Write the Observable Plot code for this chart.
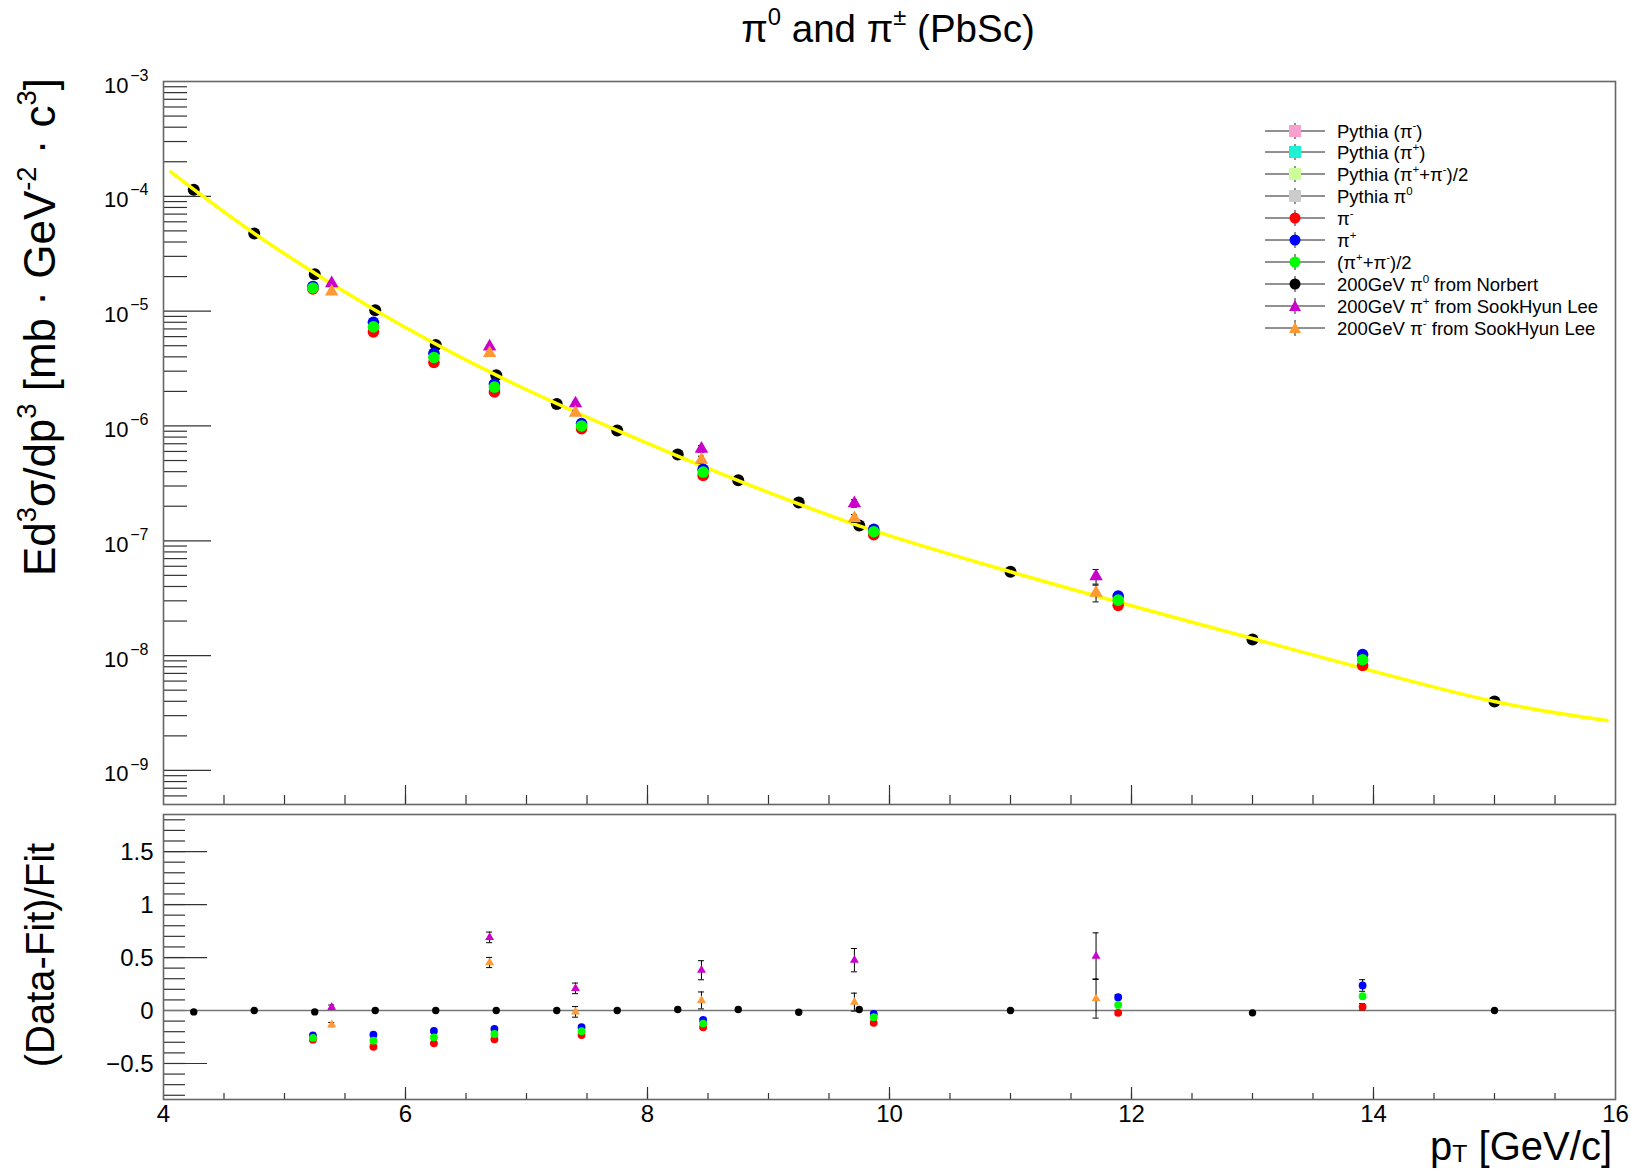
<!DOCTYPE html>
<html>
<head>
<meta charset="utf-8">
<script src="https://cdn.jsdelivr.net/npm/d3@7"></script>
<script src="https://cdn.jsdelivr.net/npm/@observablehq/plot@0.6"></script>
<style>
  body { margin: 0; background: #fff; }
  #wrap { position: relative; width: 1631px; height: 1169px; overflow: hidden;
          font-family: "Liberation Sans", Arial, Helvetica, sans-serif; color: #000; background: #fff; }
  #wrap svg { position: absolute; left: 0; }
  .abs { position: absolute; white-space: nowrap; line-height: 1; }
  sup { font-size: 0.62em; position: relative; top: -0.7em; vertical-align: baseline; line-height: 0; }
  sub { font-size: 0.62em; position: relative; top: 0.1em; vertical-align: baseline; line-height: 0; }
  .lrow { position: absolute; left: 0; height: 22px; width: 360px; }
  .lrow svg { position: absolute; left: 0; top: 0; }
  .lrow span { position: absolute; left: 72px; top: 1px; font-size: 18.5px; line-height: 22px; white-space: nowrap; }
</style>
</head>
<body>
<div id="wrap"></div>
<script>
// ---------------- data ----------------
// pi0 200 GeV from Norbert (black)
const pi0Pt  = [4.25, 4.75, 5.25, 5.75, 6.25, 6.75, 7.25, 7.75, 8.25, 8.75, 9.25, 9.75, 11, 13, 15];
const pi0Val = [1.14e-4, 4.75e-5, 2.10e-5, 1.02e-5, 5.08e-6, 2.77e-6, 1.55e-6, 9.14e-7, 5.64e-7, 3.37e-7, 2.16e-7, 1.36e-7, 5.37e-8, 1.38e-8, 3.98e-9];
const pi0Res = [-0.013, 0, -0.013, 0, 0, 0, 0, 0, 0.01, 0.01, -0.016, 0.01, 0, -0.022, 0];

// charged pions (PbSc)
const pionPt     = [5.235, 5.735, 6.235, 6.735, 7.455, 8.46, 9.87, 11.89, 13.91];
const piMinusVal = [1.56e-5, 6.6e-6, 3.57e-6, 1.98e-6, 9.46e-7, 3.71e-7, 1.13e-7, 2.74e-8, 8.2e-9];
const piPlusVal  = [1.64e-5, 8.0e-6, 4.3e-6, 2.32e-6, 1.05e-6, 4.19e-7, 1.26e-7, 3.3e-8, 1.02e-8];
const piAvgVal   = [1.59e-5, 7.3e-6, 3.95e-6, 2.18e-6, 1.0e-6, 3.97e-7, 1.2e-7, 3.04e-8, 9.2e-9];
const piMinusRes = [-0.275, -0.342, -0.310, -0.272, -0.231, -0.158, -0.116, -0.022, 0.035];
const piPlusRes  = [-0.234, -0.228, -0.193, -0.174, -0.158, -0.089, -0.032, 0.126, 0.236];
const piAvgRes   = [-0.259, -0.285, -0.253, -0.222, -0.196, -0.123, -0.063, 0.053, 0.135];
const piMinusErr = [0.008, 0.008, 0.008, 0.009, 0.01, 0.012, 0.015, 0.02, 0.03];
const piPlusErr  = [0.008, 0.008, 0.008, 0.009, 0.01, 0.012, 0.015, 0.025, 0.055];
const piAvgErr   = [0.006, 0.006, 0.006, 0.007, 0.008, 0.009, 0.011, 0.016, 0.035];

// SookHyun Lee 200 GeV (triangles)
const sookPt       = [5.39, 6.695, 7.405, 8.446, 9.71, 11.707];
const sookPlusVal  = [1.75e-5, 4.91e-6, 1.57e-6, 6.33e-7, 2.12e-7, 4.91e-8];
const sookMinusVal = [1.48e-5, 4.3e-6, 1.30e-6, 5.08e-7, 1.57e-7, 3.52e-8];
const sookPlusRes  = [0.032, 0.69, 0.209, 0.38, 0.475, 0.513];
const sookMinusRes = [-0.133, 0.453, -0.013, 0.095, 0.079, 0.113];
const sookPlusErr  = [0.02, 0.05, 0.05, 0.09, 0.11, 0.22];
const sookMinusErr = [0.02, 0.048, 0.05, 0.08, 0.085, 0.185];

// fit curve (yellow)
const fitPt  = [4.06, 4.75, 5.75, 6.75, 7.75, 8.75, 9.75, 11, 13, 15, 15.93];
const fitVal = [1.63e-4, 4.75e-5, 1.02e-5, 2.77e-6, 9.14e-7, 3.34e-7, 1.35e-7, 5.37e-8, 1.41e-8, 3.98e-9, 2.72e-9];

// axes
const xDomain = [4, 16];
const topYDomain = [5.05e-10, 1e-3];
const botYDomain = [-0.84, 1.85];
const xLabelTicks = [4, 6, 8, 10, 12, 14, 16];
const decadeTicks = [1e-9, 1e-8, 1e-7, 1e-6, 1e-5, 1e-4, 1e-3];
const resMajorTicks = [-0.5, 0, 0.5, 1, 1.5];
const resTickLabels = ["\u22120.5", "0", "0.5", "1", "1.5"];

// legend
const legendLabels = [
  "Pythia (\u03c0<sup>-</sup>)",
  "Pythia (\u03c0<sup>+</sup>)",
  "Pythia (\u03c0<sup>+</sup>+\u03c0<sup>-</sup>)/2",
  "Pythia \u03c0<sup>0</sup>",
  "\u03c0<sup>-</sup>",
  "\u03c0<sup>+</sup>",
  "(\u03c0<sup>+</sup>+\u03c0<sup>-</sup>)/2",
  "200GeV \u03c0<sup>0</sup> from Norbert",
  "200GeV \u03c0<sup>+</sup> from SookHyun Lee",
  "200GeV \u03c0<sup>-</sup> from SookHyun Lee"
];
const legendColors = ["#f7a1cc", "#1ef2d2", "#ccff99", "#cccccc", "#ff0000", "#0000ff", "#00ff00", "#000000", "#cc00cc", "#ff9933"];
const legendShapes = ["square", "square", "square", "square", "circle", "circle", "circle", "circle", "triangle", "triangle"];

// ---------------- build ----------------
const FONT = '"Liberation Sans", Arial, Helvetica, sans-serif';
const W = 1631, ML = 163, MR = 16;
const PW = W - ML - MR;
const TOP_H = 808, TOP_MT = 81, TOP_MB = 4;
const TOP_PH = TOP_H - TOP_MT - TOP_MB;
const BOT_H = 361, BOT_MT = 6, BOT_MB = 70;
const BOT_PH = BOT_H - BOT_MT - BOT_MB;

const COL = {minus: "#ff0000", plus: "#0000ff", avg: "#00ff00", pi0: "#000000", sp: "#cc00cc", sm: "#ff9933"};

function table(xs, vals, res, errs) {
  return xs.map((x, i) => {
    const e = errs ? errs[i] : 0;
    const rel = e / (1 + res[i]);
    return {x, y: vals[i], r: res[i], e, lo: vals[i] * (1 - rel), hi: vals[i] * (1 + rel), rlo: res[i] - e, rhi: res[i] + e};
  });
}
const pi0 = table(pi0Pt, pi0Val, pi0Res, null);
const piM = table(pionPt, piMinusVal, piMinusRes, piMinusErr);
const piP = table(pionPt, piPlusVal, piPlusRes, piPlusErr);
const piA = table(pionPt, piAvgVal, piAvgRes, piAvgErr);
const spP = table(sookPt, sookPlusVal, sookPlusRes, sookPlusErr);
const spM = table(sookPt, sookMinusVal, sookMinusRes, sookMinusErr);
const fit = fitPt.map((x, i) => ({x, y: fitVal[i]}));

const logMinor = [];
for (let n = -10; n <= -4; n++) for (let k = 2; k <= 9; k++) {
  const v = k * Math.pow(10, n);
  if (v >= topYDomain[0] && v <= topYDomain[1]) logMinor.push(v);
}
const xMinor = d3.range(4.5, 16, 0.5);
const xMajor = [6, 8, 10, 12, 14];
const resMinor = d3.range(-8, 19).map(k => k / 10).filter(v => v > botYDomain[0] && v < botYDomain[1]);

function errMarks(data, lo, hi) {
  return [
    Plot.ruleX(data, {x: "x", y1: lo, y2: hi, stroke: "#000", strokeWidth: 1}),
    Plot.ruleY(data, {y: lo, x1: "x", x2: "x", insetLeft: -3, insetRight: -3, stroke: "#000", strokeWidth: 1}),
    Plot.ruleY(data, {y: hi, x1: "x", x2: "x", insetLeft: -3, insetRight: -3, stroke: "#000", strokeWidth: 1})
  ];
}

const tickStroke = "#333";
const frameStroke = "#666";

const topPlot = Plot.plot({
  width: W, height: TOP_H,
  marginLeft: ML, marginRight: MR, marginTop: TOP_MT, marginBottom: TOP_MB,
  x: {domain: xDomain, axis: null},
  y: {type: "log", domain: topYDomain, axis: null},
  style: {fontFamily: FONT, background: "transparent", overflow: "visible", color: "#000"},
  marks: [
    Plot.tickY(decadeTicks, {y: d => d, insetRight: PW - 48, stroke: tickStroke, strokeWidth: 1.2}),
    Plot.tickY(logMinor, {y: d => d, insetRight: PW - 24, stroke: tickStroke, strokeWidth: 1.2}),
    Plot.tickX(xMajor, {x: d => d, insetTop: TOP_PH - 19, stroke: tickStroke, strokeWidth: 1.2}),
    Plot.tickX(xMinor, {x: d => d, insetTop: TOP_PH - 9, stroke: tickStroke, strokeWidth: 1.2}),
    Plot.text(decadeTicks, {y: d => d, text: () => "10", frameAnchor: "left", textAnchor: "end", dx: -35, dy: 4, fontSize: 22, fill: "#000"}),
    Plot.text(decadeTicks, {y: d => d, text: d => "\u2212" + Math.round(-Math.log10(d)), frameAnchor: "left", textAnchor: "end", dx: -15, dy: -6, fontSize: 16, fill: "#000"}),
    Plot.dot(pi0, {x: "x", y: "y", r: 6, fill: COL.pi0}),
    Plot.line(fit, {x: "x", y: "y", stroke: "#ffff00", strokeWidth: 3.5, curve: "catmull-rom"}),
    ...errMarks(spP, "lo", "hi"),
    ...errMarks(spM, "lo", "hi"),
    ...errMarks(piP, "lo", "hi"),
    Plot.dot(piM, {x: "x", y: "y", r: 5.8, fill: COL.minus}),
    Plot.dot(piP, {x: "x", y: "y", r: 5.8, fill: COL.plus}),
    Plot.dot(piA, {x: "x", y: "y", r: 5.8, fill: COL.avg}),
    Plot.dot(spP, {x: "x", y: "y", r: 5, symbol: "triangle", fill: COL.sp}),
    Plot.dot(spM, {x: "x", y: "y", r: 5, symbol: "triangle", fill: COL.sm}),
    Plot.frame({stroke: frameStroke, strokeWidth: 1.6})
  ]
});

const botPlot = Plot.plot({
  width: W, height: BOT_H,
  marginLeft: ML, marginRight: MR, marginTop: BOT_MT, marginBottom: BOT_MB,
  x: {domain: xDomain, axis: null},
  y: {domain: botYDomain, axis: null},
  style: {fontFamily: FONT, background: "transparent", overflow: "visible", color: "#000"},
  marks: [
    Plot.tickY(resMajorTicks, {y: d => d, insetRight: PW - 44, stroke: tickStroke, strokeWidth: 1.2}),
    Plot.tickY(resMinor, {y: d => d, insetRight: PW - 22, stroke: tickStroke, strokeWidth: 1.2}),
    Plot.tickX(xMajor, {x: d => d, insetTop: BOT_PH - 12, stroke: tickStroke, strokeWidth: 1.2}),
    Plot.tickX(xMinor, {x: d => d, insetTop: BOT_PH - 6, stroke: tickStroke, strokeWidth: 1.2}),
    Plot.text(resMajorTicks, {y: d => d, text: (d, i) => resTickLabels[i], frameAnchor: "left", textAnchor: "end", dx: -10, dy: 1, fontSize: 24, fill: "#000"}),
    Plot.text(xLabelTicks, {x: d => d, text: d => String(d), frameAnchor: "bottom", lineAnchor: "top", dy: 5, fontSize: 24, fill: "#000"}),
    Plot.ruleY([0], {stroke: "#777", strokeWidth: 1.6}),
    ...errMarks(spP, "rlo", "rhi"),
    ...errMarks(spM, "rlo", "rhi"),
    ...errMarks(piP, "rlo", "rhi"),
    ...errMarks(piM, "rlo", "rhi"),
    Plot.dot(pi0, {x: "x", y: "r", r: 3.7, fill: COL.pi0}),
    Plot.dot(piM, {x: "x", y: "r", r: 3.9, fill: COL.minus}),
    Plot.dot(piP, {x: "x", y: "r", r: 3.9, fill: COL.plus}),
    Plot.dot(piA, {x: "x", y: "r", r: 3.9, fill: COL.avg}),
    Plot.dot(spP, {x: "x", y: "r", r: 3.3, symbol: "triangle", fill: COL.sp}),
    Plot.dot(spM, {x: "x", y: "r", r: 3.3, symbol: "triangle", fill: COL.sm}),
    Plot.frame({stroke: frameStroke, strokeWidth: 1.6})
  ]
});

const wrap = document.getElementById("wrap");
topPlot.style.top = "0px";
botPlot.style.top = TOP_H + "px";
wrap.appendChild(topPlot);
wrap.appendChild(botPlot);

function addDiv(html, css) {
  const d = document.createElement("div");
  d.className = "abs";
  d.innerHTML = html;
  Object.assign(d.style, css);
  wrap.appendChild(d);
  return d;
}

// title
addDiv("\u03c0<sup>0</sup> and \u03c0<sup>\u00b1</sup> (PbSc)", {left: "888px", top: "10px", fontSize: "38.5px", transform: "translateX(-50%)"});
// y label (top)
addDiv("Ed<sup>3</sup>\u03c3/dp<sup>3</sup> [mb \u00b7 GeV<sup>-2</sup> \u00b7 c<sup>3</sup>]",
  {left: "40px", top: "327px", fontSize: "44px", transform: "translate(-50%,-50%) rotate(-90deg)"});
// y label (bottom)
addDiv("(Data-Fit)/Fit", {left: "40px", top: "955px", fontSize: "40px", transform: "translate(-50%,-50%) rotate(-90deg)"});
// x label
addDiv("p<sub>T</sub> [GeV/c]", {right: "19px", top: "1130px", fontSize: "40px", lineHeight: "0.8"});

// legend
const leg = document.createElement("div");
leg.style.position = "absolute";
leg.style.left = "1265px";
leg.style.top = "0px";
wrap.appendChild(leg);
legendLabels.forEach((lab, i) => {
  const cy = 130.5 + i * 21.95;
  const row = document.createElement("div");
  row.className = "lrow";
  row.style.top = (cy - 11) + "px";
  const c = legendColors[i];
  let sym;
  if (legendShapes[i] === "square") sym = `<rect x="24" y="5" width="12" height="12" fill="${c}"/>`;
  else if (legendShapes[i] === "circle") sym = `<circle cx="30" cy="11" r="5.5" fill="${c}"/>`;
  else sym = `<path d="M30,5 L36,16 L24,16 Z" fill="${c}"/>`;
  row.innerHTML = `<svg width="60" height="22"><line x1="0" y1="11" x2="60" y2="11" stroke="#222" stroke-width="1"/><line x1="30" y1="3" x2="30" y2="19" stroke="#222" stroke-width="1"/>${sym}</svg><span>${lab}</span>`;
  leg.appendChild(row);
});
</script>
</body>
</html>
